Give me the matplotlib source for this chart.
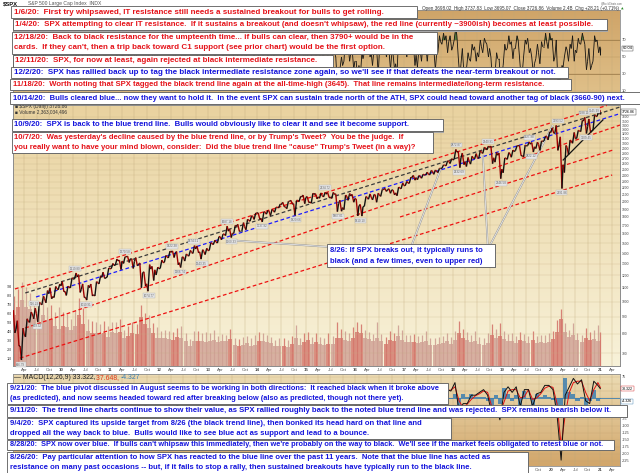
import numpy as np
import matplotlib
matplotlib.use("Agg")
import matplotlib.pyplot as plt
from matplotlib.patches import Rectangle
from matplotlib.collections import LineCollection
from matplotlib.colors import to_rgb
from matplotlib.ticker import NullLocator
from matplotlib.transforms import blended_transform_factory

plt.rcParams['font.family'] = ['Liberation Sans', 'DejaVu Sans']
NOTE_FONT = ['Liberation Sans Narrow', 'Liberation Sans', 'DejaVu Sans']

# ---------------------------------------------------------------- data
first_year = 2009            # monthly data, Jan 2009 .. Jan 2021 (partial)
spx_open_first = 903.0
last_month_span = 0.2        # Jan 2021 only through the 6th

spx_close = [
    825.9, 735.1, 797.9, 872.8, 919.1, 919.3, 987.5, 1020.6, 1057.1, 1036.2, 1095.6, 1115.1,
    1073.9, 1104.5, 1169.4, 1186.7, 1089.4, 1030.7, 1101.6, 1049.3, 1141.2, 1183.3, 1180.6, 1257.6,
    1286.1, 1327.2, 1325.8, 1363.6, 1345.2, 1320.6, 1292.3, 1218.9, 1131.4, 1253.3, 1247.0, 1257.6,
    1312.4, 1365.7, 1408.5, 1397.9, 1310.3, 1362.2, 1379.3, 1406.6, 1440.7, 1412.2, 1416.2, 1426.2,
    1498.1, 1514.7, 1569.2, 1597.6, 1630.7, 1606.3, 1685.7, 1633.0, 1681.6, 1756.5, 1805.8, 1848.4,
    1782.6, 1859.5, 1872.3, 1884.0, 1923.6, 1960.2, 1930.7, 2003.4, 1972.3, 2018.1, 2067.6, 2058.9,
    1995.0, 2104.5, 2067.9, 2085.5, 2107.4, 2063.1, 2103.8, 1972.2, 1920.0, 2079.4, 2080.4, 2043.9,
    1940.2, 1932.2, 2059.7, 2065.3, 2097.0, 2098.9, 2173.6, 2171.0, 2168.3, 2126.2, 2198.8, 2238.8,
    2278.9, 2363.6, 2362.7, 2384.2, 2411.8, 2423.4, 2470.3, 2471.7, 2519.4, 2575.3, 2647.6, 2673.6,
    2823.8, 2713.8, 2640.9, 2648.1, 2705.3, 2718.4, 2816.3, 2901.5, 2914.0, 2711.7, 2760.2, 2506.9,
    2704.1, 2784.5, 2834.4, 2945.8, 2752.1, 2941.8, 2980.4, 2926.5, 2976.7, 3037.6, 3141.0, 3230.8,
    3225.5, 2954.2, 2584.6, 2912.4, 3044.3, 3100.3, 3271.1, 3500.3, 3363.0, 3270.0, 3621.6, 3756.1,
    3726.9]
spx_high = [
    943, 876, 832, 888, 930, 956, 996, 1039, 1080, 1101, 1111, 1130,
    1150, 1113, 1180, 1220, 1206, 1131, 1120, 1130, 1149, 1197, 1227, 1263,
    1303, 1344, 1333, 1366, 1371, 1346, 1357, 1308, 1230, 1293, 1277, 1270,
    1334, 1378, 1420, 1422, 1416, 1364, 1392, 1427, 1475, 1471, 1434, 1448,
    1504, 1531, 1570, 1598, 1688, 1654, 1698, 1710, 1730, 1771, 1814, 1849,
    1851, 1867, 1884, 1897, 1925, 1968, 1992, 2005, 2019, 2019, 2076, 2094,
    2072, 2120, 2117, 2126, 2135, 2130, 2133, 2112, 2021, 2094, 2117, 2104,
    2038, 1962, 2073, 2111, 2103, 2121, 2178, 2194, 2188, 2170, 2214, 2278,
    2301, 2371, 2401, 2399, 2419, 2454, 2484, 2491, 2520, 2582, 2657, 2695,
    2873, 2835, 2801, 2718, 2742, 2791, 2848, 2916, 2941, 2940, 2816, 2800,
    2708, 2813, 2861, 2950, 2954, 2964, 3028, 3014, 3022, 3050, 3154, 3248,
    3337, 3394, 3136, 2954, 3068, 3233, 3280, 3515, 3588, 3550, 3645, 3760,
    3770]
spx_low = [
    805, 735, 667, 783, 866, 888, 869, 978, 992, 1020, 1029, 1086,
    1071, 1044, 1100, 1170, 1066, 1029, 1011, 1040, 1040, 1131, 1174, 1185,
    1257, 1289, 1249, 1303, 1312, 1259, 1283, 1101, 1114, 1075, 1158, 1203,
    1259, 1312, 1354, 1358, 1292, 1267, 1325, 1371, 1397, 1403, 1343, 1386,
    1426, 1485, 1501, 1536, 1581, 1560, 1604, 1627, 1633, 1646, 1747, 1768,
    1770, 1738, 1834, 1815, 1859, 1915, 1930, 1905, 1964, 1821, 2001, 1973,
    1988, 1981, 2040, 2048, 2068, 2057, 2045, 1867, 1872, 1893, 2019, 1993,
    1812, 1810, 1937, 2034, 2025, 1992, 2075, 2148, 2120, 2097, 2084, 2188,
    2234, 2271, 2322, 2329, 2353, 2405, 2407, 2418, 2447, 2520, 2566, 2606,
    2683, 2533, 2586, 2553, 2595, 2692, 2698, 2796, 2864, 2604, 2631, 2347,
    2444, 2682, 2722, 2848, 2750, 2729, 2952, 2822, 2892, 2855, 3050, 3070,
    3214, 2855, 2192, 2448, 2767, 2999, 3101, 3252, 3210, 3234, 3280, 3612,
    3663]

# volume in billions: monthly typical level and monthly peak
vol_avg = [
    5.8, 6.8, 7.5, 6.8, 6.5, 5.5, 5.0, 5.8, 5.3, 5.4, 4.6, 4.3,
    4.6, 4.5, 4.2, 4.6, 5.8, 4.8, 4.0, 3.8, 3.8, 3.7, 3.8, 3.4,
    3.9, 3.8, 3.9, 3.3, 3.5, 3.8, 3.7, 5.6, 4.8, 4.4, 3.8, 3.3,
    3.2, 3.3, 3.1, 3.0, 3.4, 3.2, 2.9, 2.4, 2.9, 2.9, 2.9, 2.8,
    2.9, 3.0, 2.8, 2.9, 2.9, 3.1, 2.5, 2.3, 2.5, 2.7, 2.4, 2.5,
    2.9, 2.9, 2.8, 2.7, 2.3, 2.4, 2.4, 2.2, 2.6, 3.2, 2.5, 2.8,
    3.0, 2.6, 2.8, 2.6, 2.5, 2.6, 2.6, 3.3, 3.2, 3.0, 2.9, 3.2,
    3.9, 3.8, 3.2, 3.1, 2.9, 3.3, 2.9, 2.6, 3.0, 2.9, 3.5, 3.0,
    2.8, 2.8, 2.8, 2.7, 2.8, 2.9, 2.5, 2.5, 2.6, 2.7, 2.9, 2.6,
    3.0, 3.8, 3.3, 3.0, 2.8, 2.9, 2.6, 2.5, 2.7, 3.6, 3.3, 3.5,
    3.1, 2.9, 2.9, 2.7, 3.0, 2.9, 2.7, 3.0, 2.7, 2.8, 2.7, 2.8,
    3.1, 3.9, 5.4, 3.9, 3.4, 3.6, 3.0, 2.8, 3.2, 3.0, 3.1, 2.9,
    3.0]
vol_max = [
    8.0, 8.8, 9.6, 9.0, 8.3, 7.2, 6.6, 7.8, 6.8, 7.0, 6.2, 6.8,
    6.2, 6.0, 5.4, 6.4, 7.8, 6.6, 5.4, 5.2, 5.0, 4.8, 5.2, 4.6,
    5.0, 5.0, 5.4, 4.2, 4.6, 5.1, 4.8, 7.0, 6.1, 5.8, 4.9, 4.5,
    4.0, 4.2, 4.0, 3.9, 4.4, 4.6, 3.8, 3.1, 4.0, 4.0, 3.8, 3.9,
    3.8, 4.1, 3.5, 3.7, 3.6, 4.3, 3.3, 3.1, 3.4, 3.5, 3.2, 3.6,
    3.9, 3.8, 3.6, 3.4, 3.0, 3.2, 3.2, 3.0, 3.5, 4.7, 3.2, 3.8,
    3.9, 3.4, 3.8, 3.4, 3.3, 3.8, 3.5, 5.0, 4.3, 4.0, 3.8, 4.5,
    5.0, 4.8, 4.2, 3.9, 3.7, 5.1, 3.7, 3.4, 4.0, 3.8, 4.7, 4.1,
    3.6, 3.6, 3.7, 3.5, 3.6, 4.0, 3.2, 3.3, 3.4, 3.5, 3.8, 3.4,
    4.0, 5.2, 4.3, 3.9, 3.6, 4.0, 3.4, 3.3, 3.8, 4.8, 4.3, 4.9,
    4.0, 3.7, 3.8, 3.5, 3.9, 3.7, 3.5, 4.0, 3.5, 3.6, 3.6, 3.8,
    4.0, 5.3, 6.5, 4.9, 4.2, 4.9, 3.8, 3.6, 4.4, 3.9, 4.1, 4.7,
    3.9]

rsi_low = [
    30, 25, 25, 50, 45, 40, 35, 50, 50, 38, 45, 50,
    30, 35, 55, 50, 22, 30, 30, 35, 45, 55, 40, 60,
    55, 50, 35, 45, 40, 30, 35, 18, 30, 35, 35, 40,
    55, 58, 55, 40, 25, 35, 45, 55, 55, 35, 30, 45,
    60, 45, 55, 40, 55, 30, 55, 30, 50, 42, 55, 45,
    30, 35, 45, 38, 50, 55, 38, 38, 40, 25, 60, 35,
    35, 50, 38, 45, 48, 35, 40, 15, 35, 45, 45, 35,
    20, 25, 55, 50, 40, 30, 60, 50, 35, 35, 30, 60,
    50, 60, 40, 38, 45, 45, 55, 35, 55, 65, 55, 58,
    70, 25, 30, 35, 45, 45, 50, 55, 50, 20, 30, 20,
    40, 60, 48, 60, 25, 50, 55, 30, 48, 42, 62, 60,
    45, 20, 20, 50, 45, 45, 55, 65, 35, 35, 45, 55,
    52]
rsi_high = [
    60, 50, 65, 72, 70, 65, 72, 72, 72, 70, 68, 70,
    70, 60, 75, 75, 55, 55, 62, 60, 72, 72, 68, 78,
    75, 75, 60, 70, 65, 55, 65, 45, 50, 68, 60, 60,
    75, 72, 75, 62, 50, 60, 65, 70, 72, 55, 58, 60,
    80, 70, 72, 70, 78, 50, 72, 50, 68, 72, 75, 70,
    62, 68, 65, 62, 70, 72, 70, 70, 62, 62, 75, 65,
    58, 72, 60, 65, 66, 55, 65, 50, 50, 75, 65, 60,
    45, 55, 75, 68, 62, 60, 78, 68, 60, 55, 75, 75,
    65, 80, 65, 62, 68, 68, 72, 60, 75, 78, 75, 75,
    85, 50, 60, 55, 65, 62, 70, 72, 65, 50, 55, 48,
    65, 75, 68, 75, 50, 70, 72, 50, 65, 68, 78, 78,
    72, 70, 40, 62, 65, 75, 72, 78, 65, 60, 75, 70,
    62]
rsi_month_end = [
    45, 30, 55, 68, 62, 52, 68, 60, 62, 50, 60, 62,
    40, 55, 70, 58, 38, 35, 58, 42, 68, 65, 52, 72,
    65, 62, 55, 66, 52, 48, 42, 40, 38, 60, 52, 55,
    68, 65, 65, 52, 32, 58, 60, 62, 60, 42, 50, 55,
    75, 58, 68, 62, 55, 45, 65, 40, 55, 68, 65, 68,
    38, 62, 55, 52, 65, 62, 42, 68, 45, 62, 68, 52,
    45, 68, 45, 55, 55, 40, 55, 38, 40, 62, 55, 45,
    40, 48, 68, 55, 58, 55, 70, 58, 52, 42, 62, 65,
    62, 75, 52, 58, 62, 58, 65, 52, 68, 70, 68, 62,
    75, 42, 38, 48, 58, 55, 62, 68, 60, 35, 48, 30,
    58, 65, 60, 70, 30, 65, 60, 42, 55, 62, 68, 70,
    50, 25, 38, 58, 60, 58, 66, 72, 45, 40, 68, 62,
    60.04]

macd_line = [
    -20, -35, -10, 25, 30, 10, 15, 25, 20, 5, 10, 15,
    -5, -10, 25, 25, -30, -25, 5, -5, 20, 30, 20, 30,
    20, 25, -10, 15, 0, -20, 5, -55, -30, 15, -5, 5,
    20, 25, 25, 0, -30, 5, 15, 20, 20, -10, -15, 10,
    30, 20, 20, 20, 30, -10, 25, -5, 15, 20, 25, 20,
    -15, 10, 10, 5, 15, 20, 5, 15, 5, -25, 40, 0,
    -10, 25, 0, 10, 10, -5, 10, -40, -25, 40, 15, -5,
    -45, -20, 40, 15, 5, 0, 35, 15, 0, -15, 15, 35,
    15, 30, 0, 5, 10, 10, 15, 0, 20, 30, 30, 25,
    55, -50, -20, -20, 10, 10, 20, 30, 10, -55, -30, -78,
    20, 40, 20, 40, -30, 30, 30, -30, 15, 20, 45, 45,
    30, -60, -222, 10, 40, 70, 50, 65, -10, -20, 60, 45,
    33.322]
macd_signal = [
    -15, -25, -20, 10, 25, 20, 12, 20, 22, 12, 8, 12,
    5, -5, 10, 25, -10, -25, -5, 0, 10, 25, 25, 25,
    25, 22, 5, 5, 5, -10, -5, -35, -40, 0, 0, 0,
    12, 22, 25, 10, -15, -10, 10, 15, 20, 5, -10, 0,
    20, 25, 20, 20, 25, 5, 10, 10, 8, 15, 22, 22,
    0, 0, 8, 8, 10, 15, 12, 10, 10, -10, 20, 15,
    0, 10, 10, 8, 10, 2, 5, -20, -35, 10, 25, 5,
    -30, -35, 15, 25, 10, 3, 20, 25, 8, -5, 0, 25,
    22, 22, 12, 5, 8, 10, 12, 8, 12, 25, 28, 28,
    40, -10, -35, -22, -5, 8, 15, 25, 20, -30, -40, -55,
    -15, 25, 30, 30, 0, 5, 30, -5, 0, 15, 35, 42,
    38, -20, -170, -60, 20, 55, 60, 60, 20, -10, 30, 55,
    37.648]

price_ticks = [700, 800, 900, 1000, 1100, 1200, 1300, 1400, 1500, 1600, 1700, 1800,
               1900, 2000, 2100, 2200, 2300, 2400, 2500, 2600, 2700, 2800, 2900,
               3000, 3100, 3200, 3300, 3400, 3500, 3600]
volume_ticks = [1, 2, 3, 4, 5, 6, 7, 8, 9]
rsi_ticks = [10, 30, 50, 70]
macd_grid = [75, 50, 25, 0, -25, -50, -75, -100, -125, -150, -175, -200, -225]
macd_tick_labels = [75, -75, -100, -125, -150, -175, -200, -225]

# trend lines: (decimal year, price) anchors
trend_lines = {
    'upper_red': ([2009.06, 2021.14], [1092, 3898], '#ee1111', 'dash'),
    'black':     ([2009.27, 2021.41], [1062, 3857], '#3a3a3a', 'dash'),
    'blue':      ([2009.49, 2021.45], [1033, 3700], '#1a1aff', 'dash'),
    'red2':      ([2009.27, 2021.41], [833, 3403], '#ee1111', 'dash'),
    'red3':      ([2016.92, 2021.27], [1799, 2863], '#ee1111', 'dash'),
    'red4':      ([2009.16, 2021.25], [676, 2407], '#ee1111', 'dash'),
    'black_up':  ([2020.25, 2021.06], [2671, 3525], '#111111', 'solid'),
}
# pointer lines from the 8/26 callout
pointer_lines = [
    ([2013.39, 2015.49], [1533, 1461]),
    ([2017.74, 2017.16], [2491, 1482]),
    ([2018.61, 2018.71], [2766, 1482]),
    ([2020.04, 2018.76], [3403, 1482]),
]
# labelled highs / lows
pivot_labels = [
    (2009.18, 666.79, -1), (2009.45, 956.23, 1), (2009.52, 869.32, -1),
    (2010.29, 1219.80, 1), (2010.51, 1010.91, -1), (2011.30, 1370.58, 1),
    (2011.79, 1074.77, -1), (2012.27, 1422.38, 1), (2012.43, 1266.74, -1),
    (2012.71, 1474.51, 1), (2012.87, 1343.35, -1), (2013.39, 1687.18, 1),
    (2013.48, 1560.33, -1), (2014.10, 1737.92, -1), (2014.79, 1820.66, -1),
    (2015.39, 2134.72, 1), (2015.65, 1867.01, -1), (2016.11, 1810.10, -1),
    (2018.07, 2872.87, 1), (2018.13, 2532.69, -1), (2018.72, 2940.91, 1),
    (2018.98, 2346.58, -1), (2019.56, 3027.98, 1), (2019.60, 2822.12, -1),
    (2020.14, 3393.52, 1), (2020.22, 2191.86, -1), (2020.68, 3588.11, 1),
    (2020.72, 3209.45, -1), (2020.88, 3645.99, 1),
]

# notes: (x0, x1, y0, y1, colour, text_x, [(y, text)], fit_line, fit_width) in pixels
RED, BLUE = '#e5131a', '#1414dc'
notes = [
    (11, 417, 6.5, 18, RED, 14, [(12.3, "1/6/20:  First try whipsawed, IT resistance still needs a sustained breakout for bulls to get rolling.")], 0, 373),
    (13, 607, 19.5, 30.5, RED, 15, [(25, "1/4/20:  SPX attempting to clear IT resistance.  If it sustains a breakout (and doesn't whipsaw), the red line (currently ~3900ish) becomes at least possible.")], 0, 588),
    (12, 437, 31.5, 53.5, RED, 14, [(37.7, "12/18/20:  Back to black resistance for the umpteenth time... if bulls can clear, then 3790+ would be in the"),
                                    (47.7, "cards.  If they can't, then a trip back toward C1 support (see prior chart) would be the first option.")], 0, 408),
    (13, 333, 55.5, 67, RED, 15, [(61, "12/11/20:  SPX, for now at least, again rejected at black intermediate resistance.")], 0, 308),
    (11, 568, 67.5, 78, BLUE, 14, [(72.7, "12/2/20:  SPX has rallied back up to tag the black intermediate resistance zone again, so we'll see if that defeats the near-term breakout or not.")], 0, 549),
    (10, 571, 79, 90, RED, 13, [(84.5, "11/18/20:  Worth noting that SPX tagged the black trend line again at the all-time-high (3645).  That line remains intermediate/long-term resistance.")], 0, 545),
    (10, 641, 92.5, 104, BLUE, 13, [(98.5, "10/14/20:  Bulls cleared blue... now they want to hold it.  In the event SPX can sustain trade north of the ATH, SPX could head toward another tag of black (3660-90) next.")], 0, 625),
    (12, 443, 119, 131.5, BLUE, 14, [(125, "10/9/20:  SPX is back to the blue trend line.  Bulls would obviously like to clear it and see it become support.")], 0, 404),
    (12, 433, 132.5, 153, RED, 14, [(137.5, "10/7/20:  Was yesterday's decline caused by the blue trend line, or by Trump's Tweet?  You be the judge.  If"),
                                    (147.5, "you really want to have your mind blown, consider:  Did the blue trend line \"cause\" Trump's Tweet (in a way)?")], 1, 414),
    (327, 495, 244.5, 267, BLUE, 330, [(250.5, "8/26: If SPX breaks out, it typically runs to"),
                                       (261, "black (and a few times, even to upper red)")], 0, 155),
    (7, 448, 382.5, 403.5, BLUE, 9.5, [(388.5, "9/21/20:  The blue pivot discussed in August seems to be working in both directions:  It reached black when it broke above"),
                                       (398, "(as predicted), and now seems headed toward red after breaking below (also as predicted, though not there yet).")], 0, 436),
    (7, 627, 405, 417, BLUE, 9.5, [(411, "9/11/20:  The trend line charts continue to show their value, as SPX rallied roughly back to the noted blue trend line and was rejected.  SPX remains bearish below it.")], 0, 614),
    (7, 451, 418, 439, BLUE, 9.5, [(423.5, "9/4/20:  SPX captured its upside target from 8/26 (the black trend line), then bonked its head hard on that line and"),
                                   (433.5, "dropped all the way back to blue.  Bulls would like to see blue act as support and lead to a bounce.")], 0, 422),
    (7, 614, 439.5, 450, BLUE, 9.5, [(444.7, "8/28/20:  SPX now over blue.  If bulls can't whipsaw this immediately, then we're probably on the way to black.  We'll see if the market feels obligated to retest blue or not.")], 0, 602),
    (7, 528, 451.5, 472.5, BLUE, 9.5, [(457, "8/26/20:  Pay particular attention to how SPX has reacted to the blue line over the past 11 years.  Note that the blue line has acted as"),
                                       (467, "resistance on many past occasions -- but, if it fails to stop a rally, then sustained breakouts have typically run to the black line.")], 0, 491),
]

# ---------------------------------------------------------------- layout
W, H = 640, 473
fig = plt.figure(figsize=(W / 100, H / 100), dpi=100)
fig.patch.set_facecolor('white')


def fx(x):
    return x / W


def fy(y):
    return 1 - y / H


def box(x0, y0, x1, y1):
    return [fx(x0), fy(y1), (x1 - x0) / W, (y1 - y0) / H]


X0, X1 = 13, 620
RSI_BOX = box(X0, 10, X1, 105)
PRICE_BOX = box(X0, 105, X1, 366)
MACD_BOX = box(X0, 374, X1, 466)
XLIM = (2009.02, 2021.41)


def year_to_px(t):
    return X0 + (t - XLIM[0]) / (XLIM[1] - XLIM[0]) * (X1 - X0)


def gradient(b, top, bottom):
    a = fig.add_axes(b, zorder=0)
    c1, c2 = np.array(to_rgb(top)), np.array(to_rgb(bottom))
    g = np.linspace(0, 1, 200)[:, None, None]
    img = c1 * (1 - g) + c2 * g
    a.imshow(np.repeat(img, 2, axis=1), aspect='auto', extent=[0, 1, 0, 1],
             interpolation='bilinear')
    a.set_axis_off()
    return a


gradient(RSI_BOX, '#cfa468', '#e2c48e')
gradient(PRICE_BOX, '#e9d29f', '#f8f2d9')
gradient(MACD_BOX, '#ecdcb4', '#d2a66a')

n = len(spx_close)
month_start = first_year + np.arange(n) / 12.0
span = np.full(n, 1 / 12.0)
span[-1] = last_month_span / 12.0
mid = month_start + span / 2

quarters = [y + q / 4 for y in range(2009, 2022) for q in range(4)
            if XLIM[0] <= y + q / 4 <= XLIM[1]]
qlabels = []
for qv in quarters:
    y = int(round(qv * 4)) // 4
    q = int(round(qv * 4)) % 4
    qlabels.append(f"{y % 100:02d}" if q == 0 else ['Apr', 'Jul', 'Oct'][q - 1])


def style_axes(a, labels):
    a.set_facecolor('none')
    for s in a.spines.values():
        s.set_color('#8c8c8c')
        s.set_linewidth(0.6)
    a.set_xlim(*XLIM)
    a.set_xticks(quarters)
    if labels is not None:
        a.set_xticklabels(labels)
        for lab in a.get_xticklabels():
            if lab.get_text().isdigit():
                lab.set_fontweight('bold')
                lab.set_color('#222222')
    else:
        a.set_xticklabels([])
    a.tick_params(axis='x', length=0, pad=1.2, labelsize=3.2, colors='#555555')
    a.grid(axis='x', color='#bfa979', lw=0.35, alpha=0.7)


def stock_zigzag(a, lows, highs, closes, open_first, lw, up_col, dn_col, zorder):
    xs, ys = [], []
    for i in range(n):
        prev = closes[i - 1] if i > 0 else open_first
        up = closes[i] >= prev
        first, second = (lows[i], highs[i]) if up else (highs[i], lows[i])
        t0, s = month_start[i], span[i]
        xs += [t0 + 0.3 * s, t0 + 0.7 * s, t0 + 0.97 * s]
        ys += [first, second, closes[i]]
    pts = np.column_stack([xs, ys])
    segs = np.stack([pts[:-1], pts[1:]], axis=1)
    cols = [up_col if segs[k][1][1] >= segs[k][0][1] else dn_col for k in range(len(segs))]
    a.add_collection(LineCollection(segs, colors=cols, linewidths=lw, zorder=zorder))
    return np.array(xs), np.array(ys)


# ---------------------------------------------------------------- RSI panel
ax_r = fig.add_axes(RSI_BOX, zorder=1)
style_axes(ax_r, None)
ax_r.set_ylim(-6.5, 105.3)
ax_r.yaxis.tick_right()
ax_r.set_yticks(rsi_ticks)
ax_r.tick_params(axis='y', length=0, pad=1.5, labelsize=3, colors='#444444')
ax_r.grid(axis='y', color='#b8955e', lw=0.35, alpha=0.8)
rx, ry = stock_zigzag(ax_r, rsi_low, rsi_high, rsi_month_end, 45, 0.6, '#111111', '#111111', 3)
ax_r.fill_between(rx, ry, 70, where=ry > 70, interpolate=True, color='#4d7a36', alpha=0.9, lw=0, zorder=2)
ax_r.fill_between(rx, ry, 30, where=ry < 30, interpolate=True, color='#b3452c', alpha=0.8, lw=0, zorder=2)
ax_r.axhline(70, color='#8a6a3a', lw=0.4)
ax_r.axhline(30, color='#8a6a3a', lw=0.4)
tr = blended_transform_factory(ax_r.transAxes, ax_r.transData)
ax_r.text(1.004, rsi_month_end[-1], f"{rsi_month_end[-1]:.2f}", transform=tr, fontsize=2.8,
          va='center', ha='left', zorder=5, clip_on=False,
          bbox=dict(boxstyle='square,pad=0.2', fc='white', ec='#333333', lw=0.3))

# ---------------------------------------------------------------- volume + price panel
ax_v = fig.add_axes(PRICE_BOX, zorder=1)
style_axes(ax_v, None)
ax_v.set_ylim(0.1, 29.5)
ax_v.set_yticks(volume_ticks)
ax_v.set_yticklabels([f"{v}B" for v in volume_ticks])
ax_v.tick_params(axis='y', length=0, pad=1, labelsize=3, colors='#444444')
vol_cols = []
for i in range(n):
    prev = spx_close[i - 1] if i > 0 else spx_open_first
    vol_cols.append('#cfa094' if spx_close[i] >= prev else '#d4776c')
ax_v.bar(mid, vol_avg, width=span * 0.98, color=vol_cols, alpha=0.8, lw=0, zorder=2)
ax_v.vlines(mid, 0, vol_max, colors=vol_cols, lw=0.9, alpha=0.9, zorder=2)

ax_p = fig.add_axes(PRICE_BOX, zorder=2)
style_axes(ax_p, qlabels)
ax_p.grid(False, axis='x')
ax_p.set_yscale('log')
ax_p.set_ylim(640, 3911)
ax_p.yaxis.tick_right()
ax_p.yaxis.set_minor_locator(NullLocator())
ax_p.set_yticks(price_ticks)
ax_p.set_yticklabels([str(v) for v in price_ticks])
ax_p.tick_params(axis='y', length=0, pad=1.5, labelsize=2.4, colors='#444444')
ax_p.grid(axis='y', color='#c4ad80', lw=0.3, alpha=0.6)

for name, (xs, ys, col, style) in trend_lines.items():
    ls = (0, (3, 2)) if style == 'dash' else '-'
    ax_p.plot(xs, ys, color=col, lw=0.9, ls=ls, zorder=3)

for xs, ys in pointer_lines:
    ax_p.plot(xs, ys, color='#9a9a9a', lw=1.3, zorder=3.5, solid_capstyle='butt')
    ax_p.plot(xs, ys, color='#f4f4f4', lw=0.5, zorder=3.6, solid_capstyle='butt')

stock_zigzag(ax_p, spx_low, spx_high, spx_close, spx_open_first, 1.0, '#111111', '#a00000', 4)

for t, p, side in pivot_labels:
    ax_p.annotate(f"{p:.2f}", (t, p), xytext=(0, 3.2 * side), textcoords='offset points',
                  fontsize=2.2, ha='center', va='center', color='#666666', zorder=5,
                  bbox=dict(boxstyle='square,pad=0.15', fc='#e6e6e6', ec='#b5b5b5', lw=0.3))

trp = blended_transform_factory(ax_p.transAxes, ax_p.transData)
ax_p.text(1.003, spx_close[-1], "3726.86", transform=trp,
          fontsize=2.6, va='center', ha='left', zorder=6, clip_on=False,
          bbox=dict(boxstyle='square,pad=0.2', fc='white', ec='#333333', lw=0.3))

# ---------------------------------------------------------------- MACD panel
macd_xlabels = [lab if year_to_px(q) > 534 else '' for q, lab in zip(quarters, qlabels)]
ax_m = fig.add_axes(MACD_BOX, zorder=1)
style_axes(ax_m, macd_xlabels)
ax_m.set_ylim(-242.9, 85.7)
ax_m.yaxis.tick_right()
ax_m.set_yticks(macd_grid)
ax_m.set_yticklabels([str(v) if v in macd_tick_labels else '' for v in macd_grid])
ax_m.tick_params(axis='y', length=0, pad=1.5, labelsize=2.8, colors='#444444')
ax_m.grid(axis='y', color='#bf9f6d', lw=0.3, alpha=0.6)
hist = np.array(macd_line) - np.array(macd_signal)
ax_m.bar(mid, hist, width=span, color='#3d7fb0', alpha=0.85, lw=0, zorder=2)
ax_m.axhline(0, color='#3d7fb0', lw=0.6, zorder=2)
ax_m.plot(mid, macd_signal, color='#e01010', lw=0.7, zorder=3)
ax_m.plot(mid, macd_line, color='#111111', lw=0.7, zorder=4)
trm = blended_transform_factory(ax_m.transAxes, ax_m.transData)
ax_m.text(1.003, macd_line[-1], f"{macd_line[-1]:.3f}", transform=trm, fontsize=2.6, va='center', ha='left',
          clip_on=False, zorder=6, bbox=dict(boxstyle='square,pad=0.2', fc='white', ec='#d02020', lw=0.3))
ax_m.text(1.003, hist[-1] - 8, f"{hist[-1]:.3f}", transform=trm, fontsize=2.6, va='center', ha='left',
          clip_on=False, zorder=6, bbox=dict(boxstyle='square,pad=0.2', fc='white', ec='#3d7fb0', lw=0.3))

# ---------------------------------------------------------------- header / legends
renderer = fig.canvas.get_renderer()


def fit(t, width):
    w = t.get_window_extent(renderer).width
    if w > 0:
        t.set_fontsize(t.get_fontsize() * width / w)
    return t


fit(fig.text(fx(3), fy(4), "$SPX", fontsize=4, fontweight='bold', color='#111111',
             va='center', ha='left'), 15)
fit(fig.text(fx(28), fy(4), "S&P 500 Large Cap Index  INDX", fontsize=3, color='#555555',
             va='center', ha='left'), 72)
fit(fig.text(fx(601), fy(3), "@StockCharts.com", fontsize=3, color='#666666',
             va='center', ha='left'), 22)
hdr = fit(fig.text(fx(422), fy(8.5), "Open 3698.02  High 3737.83  Low 3695.07  Close 3726.86  Volume 2.4B  Chg +28.21 (+0.71%)",
                   fontsize=3, color='#333333', va='center', ha='left'), 194)
hb = hdr.get_window_extent(renderer)
fig.text(hb.x1 / W + 1.5 / W, fy(8.5), "\u25B2", fontsize=2.4, color='#2a8a2a', va='center', ha='left',
         family=['DejaVu Sans'])
fit(fig.text(fx(15), fy(106.5), "\u25A0 $SPX (Daily) 3726.86", fontsize=3, color='#333333',
             va='center', ha='left', family=['Liberation Sans', 'DejaVu Sans'], zorder=5), 52)
fit(fig.text(fx(15), fy(112), "\u25A0 Volume 2,363,034,496", fontsize=3, color='#333333',
             va='center', ha='left', family=['Liberation Sans', 'DejaVu Sans'], zorder=5), 51)
mt = fig.text(fx(14), fy(377.5), "\u2014 MACD(12,26,9) 33.322, ", fontsize=3, color='#222222',
              va='center', ha='left', family=['Liberation Sans', 'DejaVu Sans'], zorder=5)
fit(mt, 82)
t2 = fig.text(fx(14 + 82), fy(377.5), "37.648, ", fontsize=mt.get_fontsize(), color='#e03a1a',
              va='center', ha='left', zorder=5)
bb2 = t2.get_window_extent(renderer)
fig.text(fx(14 + 82) + bb2.width / W, fy(377.5), "-4.327", fontsize=mt.get_fontsize(), color='#3d7fb0',
         va='center', ha='left', zorder=5)

# ---------------------------------------------------------------- note boxes
for x0, x1, y0, y1, col, tx, lines, fit_i, fit_w in notes:
    fig.add_artist(Rectangle((fx(x0 + 1.2), fy(y1 + 1.2)), (x1 - x0) / W, (y1 - y0) / H,
                             transform=fig.transFigure, fc='#a8a8a8', ec='none', zorder=20))
    fig.add_artist(Rectangle((fx(x0), fy(y1)), (x1 - x0) / W, (y1 - y0) / H,
                             transform=fig.transFigure, fc='white', ec='#5a5a5a', lw=0.6, zorder=21))
    arts = [fig.text(fx(tx), fy(ly), s, color=col, fontsize=6, fontweight='bold', family=NOTE_FONT,
                     ha='left', va='center', zorder=22) for ly, s in lines]
    w = arts[fit_i].get_window_extent(renderer).width
    for a in arts:
        a.set_fontsize(6 * fit_w / w)

fig.savefig('out.png', dpi=100)
